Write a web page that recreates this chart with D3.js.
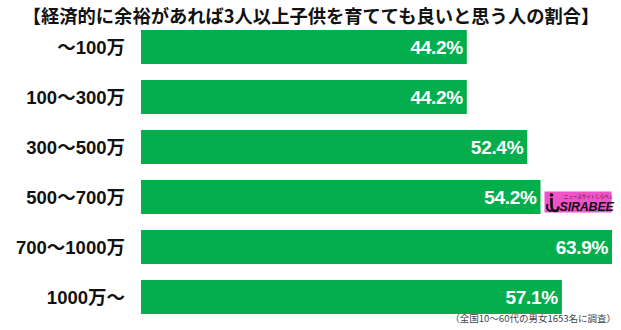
<!DOCTYPE html>
<html><head><meta charset="utf-8">
<script src="https://cdn.jsdelivr.net/npm/d3@7"></script>
<style>
html,body{margin:0;padding:0;background:#fff;}
svg{display:block;}
</style></head>
<body>
<svg id="chart" width="621" height="330"></svg>
<script>
const title = "【経済的に余裕があれば3人以上子供を育てても良いと思う人の割合】";
const categories = ["～100万", "100～300万", "300～500万", "500～700万", "700～1000万", "1000万～"];
const values = [44.2, 44.2, 52.4, 54.2, 63.9, 57.1];
const note = "（全国10～60代の男女1653名に調査）";
const logoIndex = 3;

const svg = d3.select("#chart");
const W = 621, H = 330;
const cjk = "'Noto Sans CJK JP', 'Noto Sans', sans-serif";
const latin = "'Liberation Sans', Arial, 'Noto Sans CJK JP', sans-serif";

svg.append("rect").attr("width", W).attr("height", H).attr("fill", "#fff");

svg.append("text")
  .attr("x", 311).attr("y", 23)
  .attr("text-anchor", "middle")
  .attr("font-family", cjk).attr("font-weight", 700)
  .attr("font-size", 18.3).attr("fill", "#111")
  .text(title);

const x = d3.scaleLinear().domain([0, 63.9]).range([141, 612]);
const y = d3.scaleBand().domain(categories).range([22, 322]).paddingInner(0.32).paddingOuter(0.16);

const g = svg.append("g");
g.selectAll("rect.bar").data(categories).join("rect")
  .attr("class", "bar")
  .attr("x", x(0))
  .attr("y", d => y(d))
  .attr("width", (d, i) => x(values[i]) - x(0))
  .attr("height", y.bandwidth())
  .attr("fill", "#05ae4d");

g.selectAll("text.cat").data(categories).join("text")
  .attr("class", "cat")
  .attr("x", 125)
  .attr("y", d => y(d) + y.bandwidth() / 2 + 6.5)
  .attr("text-anchor", "end")
  .attr("font-family", latin).attr("font-weight", 700)
  .attr("font-size", 18.5).attr("fill", "#111")
  .text(d => d);

g.selectAll("text.val").data(categories).join("text")
  .attr("class", "val")
  .attr("x", (d, i) => x(values[i]) - 4)
  .attr("y", d => y(d) + y.bandwidth() / 2 + 7)
  .attr("text-anchor", "end")
  .attr("font-family", latin).attr("font-weight", 700)
  .attr("font-size", 19).attr("fill", "#fff")
  .attr("letter-spacing", -0.3)
  .text((d, i) => values[i].toFixed(1) + "%");

// SIRABEE logo
const lc = categories[logoIndex];
const lx = x(values[logoIndex]) + 4, ly = y(lc) + 11.5;
const logo = svg.append("g").attr("transform", `translate(${lx},${ly})`);
logo.append("rect").attr("width", 67).attr("height", 21).attr("fill", "#f052c8");
logo.append("text").attr("x", 44).attr("y", 6.5).attr("text-anchor", "middle")
  .attr("font-family", cjk).attr("font-size", 4.5).attr("fill", "#222").text("ニュースサイトしらべぇ");
logo.append("text").attr("x", 15).attr("y", 19)
  .attr("font-family", latin).attr("font-weight", 700).attr("font-style", "italic")
  .attr("font-size", 12.5).attr("fill", "#111").attr("letter-spacing", -0.2).text("SIRABEE");
logo.append("circle").attr("cx", 7).attr("cy", 3.5).attr("r", 1.8).attr("fill", "#111");
logo.append("path").attr("d", "M7,6.5 L7,14 Q7,19.5 10.5,19.5 Q14,19.5 14,15").attr("fill", "none")
  .attr("stroke", "#111").attr("stroke-width", 2.6);
logo.append("path").attr("d", "M3,12.5 Q1,19.5 7,19.5").attr("fill", "none").attr("stroke", "#111").attr("stroke-width", 2);

svg.append("text")
  .attr("x", 616).attr("y", 322)
  .attr("text-anchor", "end")
  .attr("font-family", cjk).attr("font-size", 9.5).attr("fill", "#444")
  .text(note);
</script>
</body></html>
